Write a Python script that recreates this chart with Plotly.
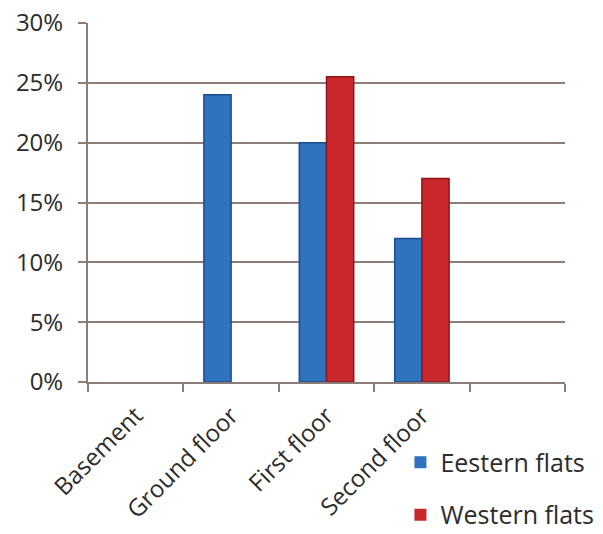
import plotly.graph_objects as go

categories = ["Basement", "Ground floor", "First floor", "Second floor", " "]
eastern = [0, 24, 20, 12, None]
western = [0, 0, 25.5, 17, None]
y_ticks = [0, 5, 10, 15, 20, 25, 30]

axis_col = "#8a7d78"
text_col = "#2b2b2b"
font_fam = "Open Sans"


def edge_widths(vals):
    return [1.5 if v else 0 for v in vals]


fig = go.Figure()
fig.add_trace(go.Bar(
    x=categories, y=eastern, name="Eestern flats",
    marker=dict(color="#2f72bd", line=dict(color="#1b4e8c", width=edge_widths(eastern))),
    legendgroup="e",
))
fig.add_trace(go.Bar(
    x=categories, y=western, name="Western flats",
    marker=dict(color="#c8282b", line=dict(color="#8c1618", width=edge_widths(western))),
    legendgroup="w",
))

fig.update_layout(
    width=603, height=534,
    margin=dict(l=88, r=38, t=23, b=152, autoexpand=False),
    paper_bgcolor="white", plot_bgcolor="white",
    barmode="group", bargap=0.43, bargroupgap=0,
    font=dict(family=font_fam, color=text_col, size=22),
    legend=dict(
        x=0.655, y=-0.433, xanchor="left", yanchor="bottom",
        font=dict(size=25, color=text_col),
        tracegroupgap=17, itemwidth=30, bgcolor="rgba(0,0,0,0)",
    ),
    xaxis=dict(
        type="category", categoryorder="array", categoryarray=categories,
        tickangle=-45, tickson="boundaries", ticks="outside", ticklen=8,
        tickcolor=axis_col, tickwidth=2, ticklabelstandoff=8,
        showline=True, linecolor=axis_col, linewidth=2,
        showgrid=False, tickfont=dict(size=24, color=text_col),
        range=[-0.5, 4.5], automargin=False,
    ),
    yaxis=dict(
        range=[0, 30], tickvals=y_ticks, ticktext=[f"{v}%" for v in y_ticks],
        ticks="outside", ticklen=8, tickcolor=axis_col, tickwidth=2,
        ticklabelstandoff=10,
        showline=True, linecolor=axis_col, linewidth=2,
        showgrid=True, gridcolor=axis_col, gridwidth=2,
        zeroline=False, tickfont=dict(size=24, color=text_col),
        automargin=False,
    ),
)

fig.write_html("out.html")
